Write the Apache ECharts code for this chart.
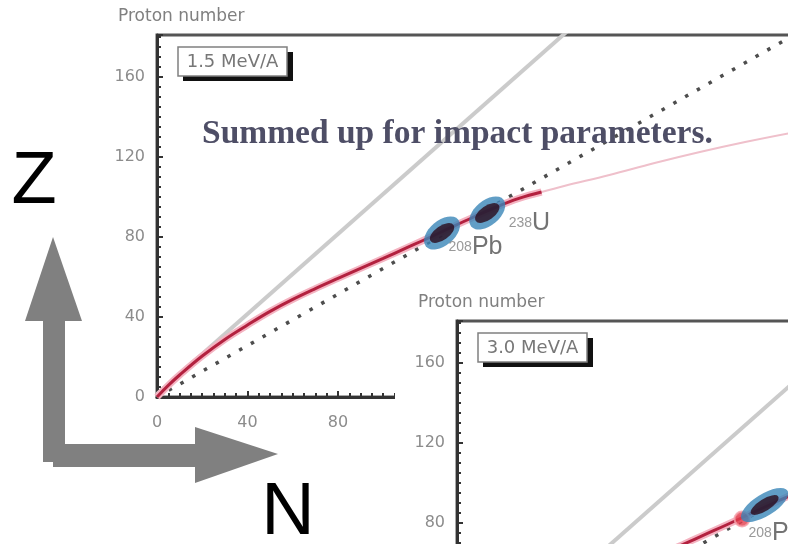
<!DOCTYPE html>
<html><head><meta charset="utf-8">
<script src="https://cdn.jsdelivr.net/npm/echarts@6/dist/echarts.min.js"></script>
<style>html,body{margin:0;padding:0;background:#fff}#c{width:788px;height:544px}</style>
</head><body><div id="c"></div>
<script>
// ---------------- data ----------------
// stability valley (proton number Z vs neutron number N)
const stabN = [0, 5, 10, 20, 30, 40, 50, 60, 70, 80, 90, 100, 110, 120, 130, 140, 150, 160, 170, 180, 200, 220, 240, 260, 280];
const stabZ = [0, 5.8, 11, 20.5, 28.8, 36, 42.8, 48.8, 54.2, 59.3, 64.3, 69.3, 74.4, 79.5, 84.8, 90, 95, 99.3, 102.5, 105.5, 111, 117, 122.5, 127.5, 132];
const stabBoldEndN = 170;            // the curve is drawn faint beyond this N
const eqN = [0, 190];                // N = Z reference line
const eqZ = [1.5, 191.5];
const dotN = [0, 280];               // dotted reference line
const dotZ = [0, 180];
const nucName = ['Pb', 'U'];
const nucA = ['208', '238'];
const nucN = [126, 146];
const nucZ = [82, 92];
const p2BlobN = [136];               // 3.0 MeV/A panel: blue/dark cluster
const p2BlobZ = [89];
const p2RedN = [126];                // 3.0 MeV/A panel: red marker at 208Pb
const p2RedZ = [82];
const tickStep = 40;
const panelTitles = ['1.5 MeV/A', '3.0 MeV/A'];
const yAxisTitle = 'Proton number';
const noteText = 'Summed up for impact parameters.';
const bigAxisLetters = ['Z', 'N'];

// ---------------- layout ----------------
const W = 656, H = 362, XMAX = 290, YMAX = 181;
const panels = [{left: 157, top: 35, zl: 0, dx: 0, dy: 0}, {left: 457, top: 321, zl: 1, dx: 300, dy: 286}];

function pts(ns, zs) { return ns.map((n, i) => [n, zs[i]]); }
const stabPts = pts(stabN, stabZ);
const boldPts = stabPts.filter(p => p[0] <= stabBoldEndN);
const faintPts = stabPts.filter(p => p[0] >= stabBoldEndN);

function fitFont(text, fam, weight, targetW) {
  const c = document.createElement('canvas').getContext('2d');
  c.font = weight + ' 100px ' + fam;
  return 100 * targetW / c.measureText(text).width;
}

const labelFont = 'DejaVu Sans';
const tickLabel = {show: true, color: '#8c8c8c', fontFamily: labelFont, fontSize: 16,
  formatter: v => (v % tickStep === 0 ? String(v) : ''), showMaxLabel: false};

const grids = panels.map((p, i) => ({
  left: p.left, top: p.top, width: W, height: H, show: true,
  borderColor: '#555', borderWidth: 3, backgroundColor: 'transparent',
  zlevel: p.zl, z: i ? 2 : 0, containLabel: false, outerBoundsMode: 'none'
}));

function axisCommon(i, p) {
  return {
    type: 'value', gridIndex: i, min: 0, interval: tickStep, zlevel: p.zl, z: i ? 3 : 1,
    axisLine: {show: true, onZero: false, lineStyle: {color: '#333', width: 3}},
    axisTick: {show: true, inside: true, length: 6, lineStyle: {color: '#333', width: 2}},
    minorTick: {show: true, splitNumber: 8, length: 4, lineStyle: {color: '#333', width: 2}},
    splitLine: {show: false}, minorSplitLine: {show: false}
  };
}
const xAxes = panels.map((p, i) => Object.assign(axisCommon(i, p), {max: XMAX, position: 'bottom',
  axisLabel: Object.assign({}, tickLabel, {margin: 18})}));
const yAxes = panels.map((p, i) => Object.assign(axisCommon(i, p), {max: YMAX, position: 'left',
  axisLabel: Object.assign({}, tickLabel, {margin: 12})}));

const nucRich = {
  s: {fontSize: 14, color: '#808080', fontFamily: 'Liberation Sans'},
  b: {fontSize: 25, color: '#505050', fontFamily: 'Liberation Sans'}
};
const labelDist = {Pb: 6, U: 21};
const labelDy = {Pb: 14, U: 10};

function panelSeries(i, p) {
  const c = {xAxisIndex: i, yAxisIndex: i, zlevel: p.zl, silent: true, animation: false};
  const zb = i ? 10 : 2;
  const s = [
    Object.assign({}, c, {type: 'line', data: pts(eqN, eqZ), symbol: 'none', lineStyle: {color: '#cbcbcb', width: 4}, z: zb}),
    Object.assign({}, c, {type: 'line', data: pts(dotN, dotZ), symbol: 'none', lineStyle: {color: '#4d4d4d', width: 3.5, type: [3.5, 10], cap: 'butt'}, z: zb + 1}),
    Object.assign({}, c, {type: 'line', data: faintPts, symbol: 'none', smooth: 0.4, lineStyle: {color: '#efc0cb', width: 2}, z: zb + 1}),
    Object.assign({}, c, {type: 'line', data: boldPts, symbol: 'none', smooth: 0.4, lineStyle: {color: '#f4b3c1', width: 7}, z: zb + 2}),
    Object.assign({}, c, {type: 'line', data: boldPts, symbol: 'none', smooth: 0.4, lineStyle: {color: '#b3213f', width: 3}, z: zb + 3})
  ];
  const mkLabel = (n, z, k) => ({value: [n, z], label: {show: true, position: 'right',
    distance: labelDist[nucName[k]], offset: [0, labelDy[nucName[k]]],
    formatter: () => '{s|' + nucA[k] + '}{b|' + nucName[k] + '}', rich: nucRich}});
  if (i === 0) {
    s.push(Object.assign({}, c, {type: 'scatter', data: pts(nucN, nucZ), symbol: 'circle', symbolSize: [42, 25], symbolRotate: 40, itemStyle: {color: '#3a86b8'}, z: zb + 5}));
    s.push(Object.assign({}, c, {type: 'scatter', data: pts(nucN, nucZ), symbol: 'circle', symbolSize: [28, 14], symbolRotate: 35, itemStyle: {color: '#2b0b1c'}, z: zb + 6}));
    s.push(Object.assign({}, c, {type: 'scatter', data: nucN.map((n, k) => mkLabel(n, nucZ[k], k)), symbolSize: 1, itemStyle: {color: 'rgba(0,0,0,0)'}, z: zb + 7}));
  } else {
    s.push(Object.assign({}, c, {type: 'scatter', data: pts(p2RedN, p2RedZ), symbol: 'circle', symbolSize: 15, itemStyle: {color: '#e23c4c', borderColor: '#f5a0aa', borderWidth: 2}, z: zb + 4}));
    s.push(Object.assign({}, c, {type: 'scatter', data: pts(p2BlobN, p2BlobZ), symbol: 'circle', symbolSize: [54, 22], symbolRotate: 32, itemStyle: {color: '#3a86b8'}, z: zb + 5}));
    s.push(Object.assign({}, c, {type: 'scatter', data: pts(p2BlobN, p2BlobZ), symbol: 'circle', symbolSize: [32, 12], symbolRotate: 32, itemStyle: {color: '#2b0b1c'}, z: zb + 6}));
    s.push(Object.assign({}, c, {type: 'scatter', data: [mkLabel(p2RedN[0], p2RedZ[0], 0)], symbolSize: 1, itemStyle: {color: 'rgba(0,0,0,0)'}, z: zb + 7}));
  }
  return s;
}

let series = [];
panels.forEach((p, i) => { series = series.concat(panelSeries(i, p)); });

// ---------------- decorations ----------------
const g = [];
// white cover under the second panel
g.push({type: 'rect', zlevel: 1, z: 1, silent: true, shape: {x: 395, y: 285, width: 400, height: 270}, style: {fill: '#fff'}});
panels.forEach((p, i) => {
  const zl = p.zl, zz = i ? 40 : 30;
  g.push({type: 'text', zlevel: zl, z: zz, x: 118 + p.dx, y: 17 + p.dy, silent: true,
    style: {text: yAxisTitle, fontFamily: labelFont, fontSize: 17, fill: '#808080', align: 'left', verticalAlign: 'middle'}});
  g.push({type: 'rect', zlevel: zl, z: zz, silent: true, shape: {x: 183 + p.dx, y: 52 + p.dy, width: 110, height: 29}, style: {fill: '#111'}});
  g.push({type: 'rect', zlevel: zl, z: zz + 1, silent: true, shape: {x: 178 + p.dx, y: 47 + p.dy, width: 109, height: 29}, style: {fill: '#fff', stroke: '#808080', lineWidth: 1.5}});
  g.push({type: 'text', zlevel: zl, z: zz + 2, x: 232.5 + p.dx, y: 62 + p.dy, silent: true,
    style: {text: panelTitles[i], fontFamily: labelFont, fontSize: 18, fill: '#777', align: 'center', verticalAlign: 'middle'}});
});
const noteSize = fitFont(noteText, '"Liberation Serif"', 'bold', 511);
g.push({type: 'text', zlevel: 0, z: 30, x: 202, y: 134, silent: true,
  style: {text: noteText, fontFamily: 'Liberation Serif', fontWeight: 'bold', fontSize: noteSize, fill: '#4e4e66', align: 'left', verticalAlign: 'middle'}});
// big Z / N arrows
const arrowCol = '#808080';
g.push({type: 'polygon', zlevel: 0, z: 50, silent: true, shape: {points: [[53, 237], [25, 321], [82, 321]]}, style: {fill: arrowCol}});
g.push({type: 'rect', zlevel: 0, z: 50, silent: true, shape: {x: 43, y: 318, width: 22, height: 144}, style: {fill: arrowCol}});
g.push({type: 'rect', zlevel: 0, z: 50, silent: true, shape: {x: 53, y: 444, width: 144, height: 23}, style: {fill: arrowCol}});
g.push({type: 'polygon', zlevel: 0, z: 50, silent: true, shape: {points: [[195, 427], [278, 454], [195, 483]]}, style: {fill: arrowCol}});
g.push({type: 'text', zlevel: 0, z: 50, x: 34, y: 183, silent: true,
  style: {text: bigAxisLetters[0], fontFamily: 'Liberation Sans', fontSize: 74, fill: '#000', align: 'center', verticalAlign: 'middle'}});
g.push({type: 'text', zlevel: 0, z: 50, x: 288, y: 514, silent: true,
  style: {text: bigAxisLetters[1], fontFamily: 'Liberation Sans', fontSize: 74, fill: '#000', align: 'center', verticalAlign: 'middle'}});

const chart = echarts.init(document.getElementById('c'), null, {renderer: 'canvas', width: 788, height: 544});
chart.setOption({
  backgroundColor: '#fff',
  animation: false,
  grid: grids,
  xAxis: xAxes,
  yAxis: yAxes,
  series: series,
  graphic: {elements: g}
});
</script></body></html>
